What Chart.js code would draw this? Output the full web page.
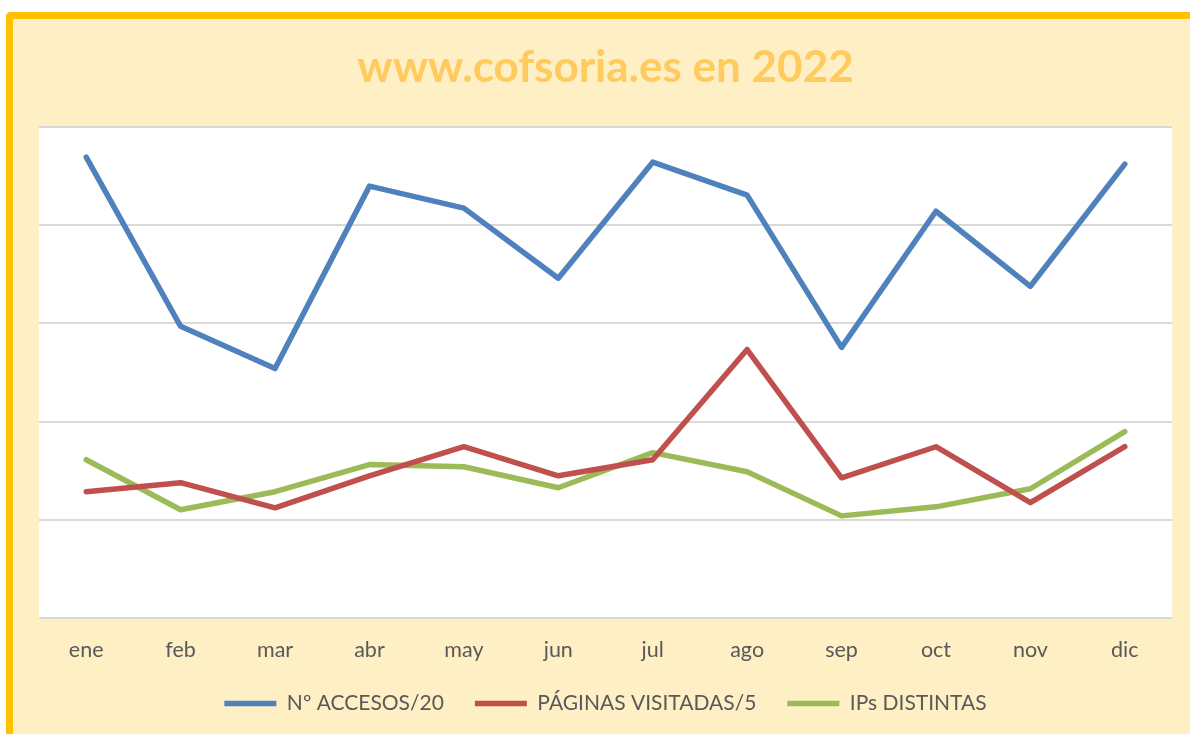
<!DOCTYPE html>
<html>
<head>
<meta charset="utf-8">
<script src="https://cdn.jsdelivr.net/npm/chart.js@4"></script>
<style>
  html, body { margin: 0; padding: 0; background: #ffffff; }
  #wrap { position: relative; width: 1190px; height: 734px; overflow: hidden; }
  #frame {
    position: absolute; left: 6px; top: 12px; width: 1200px; height: 740px;
    background: #FFEFC5; border-left: 7px solid #FFC000; border-top: 7px solid #FFC000;
    border-top-left-radius: 5px; box-sizing: border-box;
  }
  #chart { position: absolute; left: 0; top: 0; }
</style>
</head>
<body>
<div id="wrap">
  <div id="frame"></div>
  <canvas id="chart" width="1190" height="734"></canvas>
</div>
<script>
// months
const meses = ['ene', 'feb', 'mar', 'abr', 'may', 'jun', 'jul', 'ago', 'sep', 'oct', 'nov', 'dic'];

// series
const accesos = [2347, 1485, 1270, 2199, 2087, 1730, 2321, 2153, 1378, 2071, 1689, 2311];
const paginas = [643, 689, 561, 724, 872, 724, 806, 1367, 714, 872, 587, 872];
const ips = [806, 551, 643, 781, 770, 663, 842, 745, 520, 566, 658, 949];

const serieNames = ['Nº ACCESOS/20', 'PÁGINAS VISITADAS/5', 'IPs DISTINTAS'];

const yMin = 0;
const yMax = 2500;
const yStep = 500;

const fontFam = 'Lato, "Open Sans", sans-serif';

// white plot area
const plotBg = {
    id: 'plotBg',
    beforeDraw(chart) {
        const { ctx, chartArea } = chart;
        ctx.save();
        ctx.fillStyle = '#ffffff';
        ctx.fillRect(chartArea.left, chartArea.top, chartArea.right - chartArea.left, chartArea.bottom - chartArea.top);
        ctx.restore();
    }
};

function mkSet(label, data, color) {
    return {
        label: label,
        data: data,
        borderColor: color,
        backgroundColor: color,
        borderWidth: 5.5,
        borderCapStyle: 'round',
        borderJoinStyle: 'round',
        pointRadius: 0,
        pointHoverRadius: 0,
        tension: 0,
        fill: false
    };
}

const ctx = document.getElementById('chart').getContext('2d');
new Chart(ctx, {
    type: 'line',
    data: {
        labels: meses,
        datasets: [
            mkSet(serieNames[0], accesos, '#4F81BD'),
            mkSet(serieNames[1], paginas, '#C0504D'),
            mkSet(serieNames[2], ips, '#9BBB59')
        ]
    },
    options: {
        responsive: false,
        animation: false,
        layout: {
            padding: { left: 39, right: 18, top: 25, bottom: 10 }
        },
        plugins: {
            title: {
                display: true,
                text: 'www.cofsoria.es en 2022',
                color: '#FFCA5E',
                font: { family: fontFam, size: 44, weight: 'bold' },
                padding: { top: 16, bottom: 33.2 }
            },
            legend: {
                display: true,
                position: 'bottom',
                labels: {
                    usePointStyle: true,
                    pointStyle: 'line',
                    pointStyleWidth: 52,
                    color: '#595959',
                    font: { family: fontFam, size: 21 },
                    padding: 31
                }
            },
            tooltip: { enabled: false }
        },
        scales: {
            x: {
                offset: true,
                grid: { display: false, drawTicks: false },
                border: { display: false },
                ticks: {
                    color: '#595959',
                    font: { family: fontFam, size: 21.5 },
                    padding: 19
                },
                afterFit(scale) {
                    scale.height = 44;
                }
            },
            y: {
                min: yMin,
                max: yMax,
                grid: { color: '#D9D9D9', lineWidth: 2, drawTicks: false },
                border: { display: false },
                ticks: { display: false, stepSize: yStep }
            }
        }
    },
    plugins: [plotBg]
});
</script>
</body>
</html>
